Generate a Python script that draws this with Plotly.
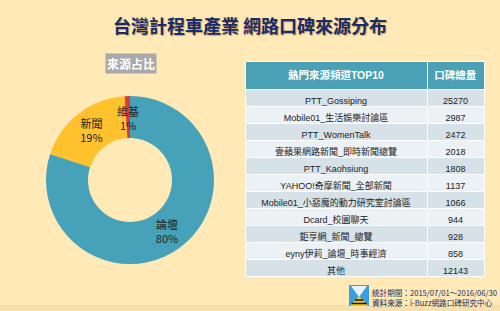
import math
import plotly.graph_objects as go

W, H = 500, 311

# ---- data ----
pie_labels = ["論壇", "新聞", "維基"]
pie_values = [80, 19, 1]
pie_colors = ["#45A2B9", "#FFC22D", "#D9393F"]

channels = ["PTT_Gossiping", "Mobile01_生活娛樂討論區", "PTT_WomenTalk",
            "壹蘋果網路新聞_即時新聞總覽", "PTT_Kaohsiung", "YAHOO!奇摩新聞_全部新聞",
            "Mobile01_小惡魔的動力研究室討論區", "Dcard_校園聊天", "鉅亨網_新聞_總覽",
            "eyny伊莉_論壇_時事經濟", "其他"]
counts = [25270, 2987, 2472, 2018, 1808, 1137, 1066, 944, 928, 858, 12143]
header = ["熱門來源頻道TOP10", "口碑總量"]

title_text = "台灣計程車產業 網路口碑來源分布"
subtitle_text = "來源占比"
footer_lines = ["統計期間：2015/07/01～2016/06/30", "資料來源：i-Buzz網路口碑研究中心"]

FONT = "Noto Sans CJK TC"
CELLFONT = "Liberation Sans, Noto Sans CJK TC"
BG = "#FFE9B6"


def px(x):
    return x / W


def py(y):
    return 1 - y / H


fig = go.Figure()

# donut: slices too thin for their own label get it placed by annotation at mid-ring
cx, cy, r, hole = 130, 180, 84, 0.5
total = sum(pie_values)
thin = [v / total < 0.03 for v in pie_values]
texts = ["" if t else f"{l}<br>{round(100 * v / total)}%"
         for l, v, t in zip(pie_labels, pie_values, thin)]
fig.add_trace(go.Pie(
    labels=pie_labels, values=pie_values, sort=False, direction="clockwise",
    hole=hole, marker=dict(colors=pie_colors, line=dict(width=0)),
    text=texts, texttemplate="%{text}", textposition="inside",
    insidetextorientation="horizontal",
    textfont=dict(family=FONT, size=11, color="#222222"),
    domain=dict(x=[px(cx - r), px(cx + r)], y=[py(cy + r), py(cy - r)]),
    showlegend=False, hoverinfo="label+value",
))

annotations = []
cum = 0
for l, v, t in zip(pie_labels, pie_values, thin):
    mid = (cum + v / 2) / total * 2 * math.pi
    cum += v
    if t:
        rm = r * (1 + hole) / 2
        annotations.append(dict(
            text=f"{l}<br>{round(100 * v / total)}%",
            x=px(cx + rm * math.sin(mid)), y=py(cy - rm * math.cos(mid) + 1),
            xref="paper", yref="paper", xanchor="center", yanchor="middle",
            showarrow=False, font=dict(family=FONT, size=11, color="#222222")))

# table (domain extends below the rows so nothing scrolls)
row_fill = ["#D6E2E8" if i % 2 == 0 else "#EBF1F5" for i in range(len(channels))]
fig.add_trace(go.Table(
    domain=dict(x=[px(245), px(484)], y=[py(308), py(61)]),
    columnwidth=[182, 57],
    header=dict(values=[f"<b>{h}</b>" for h in header],
                fill_color="#4AA0B5", line=dict(color="white", width=1),
                font=dict(family=CELLFONT, size=10.5, color="white"),
                align="center", height=22),
    cells=dict(values=[channels, counts],
               fill_color=[row_fill, row_fill], line=dict(color="white", width=1),
               font=dict(family=CELLFONT, size=9, color="#222222"),
               align="center", height=17),
))

annotations += [
    dict(text=f"<b>{title_text}</b>", x=0.5, y=py(25), xref="paper", yref="paper",
         xanchor="center", yanchor="middle", showarrow=False,
         font=dict(family=FONT, size=18, color="#1B2A6B",
                   shadow="1px 1px 1px rgba(150,120,40,0.6)")),
    dict(text=f"<b>{subtitle_text}</b>", x=px(131), y=py(64), xref="paper", yref="paper",
         xanchor="center", yanchor="middle", showarrow=False, bgcolor="#A9A9A9",
         borderpad=1, font=dict(family=FONT, size=12, color="white")),
    dict(text="<br>".join(footer_lines), x=px(370), y=py(297), xref="paper", yref="paper",
         xanchor="left", yanchor="middle", align="left", showarrow=False,
         font=dict(family=FONT, size=7.6, color="#1D2B5C")),
]

# bottom shade band and small logo (decorative)
shapes = [
    dict(type="rect", xref="paper", yref="paper", x0=0, x1=1, y0=0, y1=py(305),
         fillcolor="#E8D29A", opacity=0.35, line=dict(width=0), layer="below"),
]
lx0, lx1, ly0, ly1 = 349, 369, 285, 306
mx = (lx0 + lx1) / 2
shapes += [
    dict(type="rect", xref="paper", yref="paper", x0=px(lx0), x1=px(lx1), y0=py(ly1), y1=py(ly0),
         fillcolor="#3A9FE0", line=dict(width=0)),
    dict(type="path", xref="paper", yref="paper",
         path=f"M {px(lx0+2)} {py(ly0+1)} L {px(lx1-2)} {py(ly0+1)} L {px(mx)} {py(ly0+12)} Z",
         fillcolor="#E8F2FA", line=dict(width=0)),
    dict(type="path", xref="paper", yref="paper",
         path=f"M {px(mx)} {py(ly0+11)} L {px(lx1-1)} {py(ly1)} L {px(lx0+1)} {py(ly1)} Z",
         fillcolor="#F5D000", line=dict(width=0)),
]
for yy in [ly0 + 15, ly0 + 18.5]:
    half = (yy - (ly0 + 11)) * (lx1 - lx0) / 2 / (ly1 - ly0 - 11)
    shapes.append(dict(type="line", xref="paper", yref="paper",
                       x0=px(mx - half), x1=px(mx + half), y0=py(yy), y1=py(yy),
                       line=dict(color="#111111", width=1.5)))

fig.update_layout(
    width=W, height=H, margin=dict(l=0, r=0, t=0, b=0),
    paper_bgcolor=BG, plot_bgcolor=BG,
    annotations=annotations, shapes=shapes,
    font=dict(family=FONT),
)

fig.write_html("out.html")
